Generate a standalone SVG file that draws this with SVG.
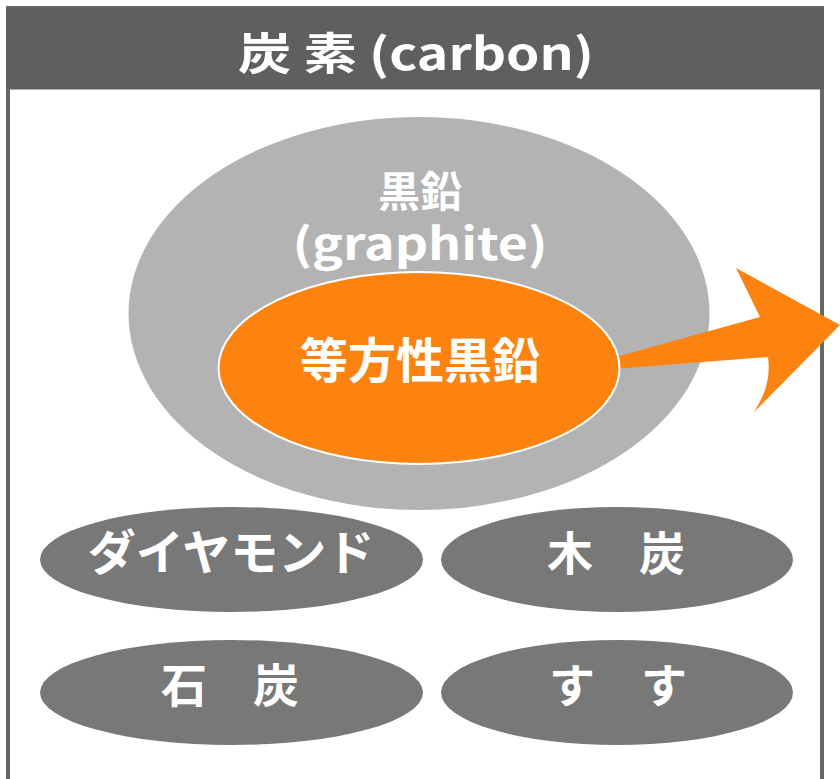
<svg xmlns="http://www.w3.org/2000/svg" width="840" height="779" viewBox="0 0 840 779">
<style>
.t{font-family:"Noto Sans CJK JP","Noto Sans",sans-serif;font-weight:bold;fill:#fff;text-anchor:middle}
.dk{fill:#787878}
</style>
<rect x="0" y="0" width="840" height="779" fill="#fff"/>
<g id="frame">
<rect x="8" y="8" width="814" height="800" fill="#fff" stroke="#666" stroke-width="4"/>
<rect x="6" y="8" width="818" height="81" fill="#5f5f5f"/>
<line x1="10" y1="89.5" x2="820" y2="89.5" stroke="#b0b0b0" stroke-width="1"/>
<text class="t" x="416" y="70" font-size="44" textLength="356" lengthAdjust="spacingAndGlyphs">炭 素 (carbon)</text>
</g>
<g id="graphite">
<ellipse cx="419" cy="313.5" rx="290.5" ry="196.5" fill="#b3b3b3"/>
<text class="t" x="420" y="207" font-size="42">黒鉛</text>
<text class="t" x="420" y="260" font-size="44" textLength="255" lengthAdjust="spacingAndGlyphs">(graphite)</text>
</g>
<g id="connectors">
<path d="M612,358 L760,317 L736,268 L840,325 L754,412 Q772,385 768,357 L614,369 Z" fill="#fd8311"/>
</g>
<g id="isotropic">
<ellipse cx="419" cy="368" rx="200.5" ry="96" fill="#fd8311" stroke="#fff" stroke-width="2"/>
<text class="t" x="420" y="378" font-size="48">等方性黒鉛</text>
</g>
<g id="diamond">
<ellipse class="dk" cx="231.5" cy="559.5" rx="191.5" ry="52.5"/>
<text class="t" x="231" y="570" font-size="48">ダイヤモンド</text>
</g>
<g id="charcoal">
<ellipse class="dk" cx="617" cy="559.5" rx="176" ry="52.5"/>
<text class="t" x="616" y="570" font-size="46">木　炭</text>
</g>
<g id="coal">
<ellipse class="dk" cx="231.5" cy="692.5" rx="191.5" ry="52.5"/>
<text class="t" x="230" y="702" font-size="46">石　炭</text>
</g>
<g id="soot">
<ellipse class="dk" cx="617" cy="692.5" rx="176" ry="52.5"/>
<text class="t" x="618" y="702" font-size="46">す　す</text>
</g>
</svg>
